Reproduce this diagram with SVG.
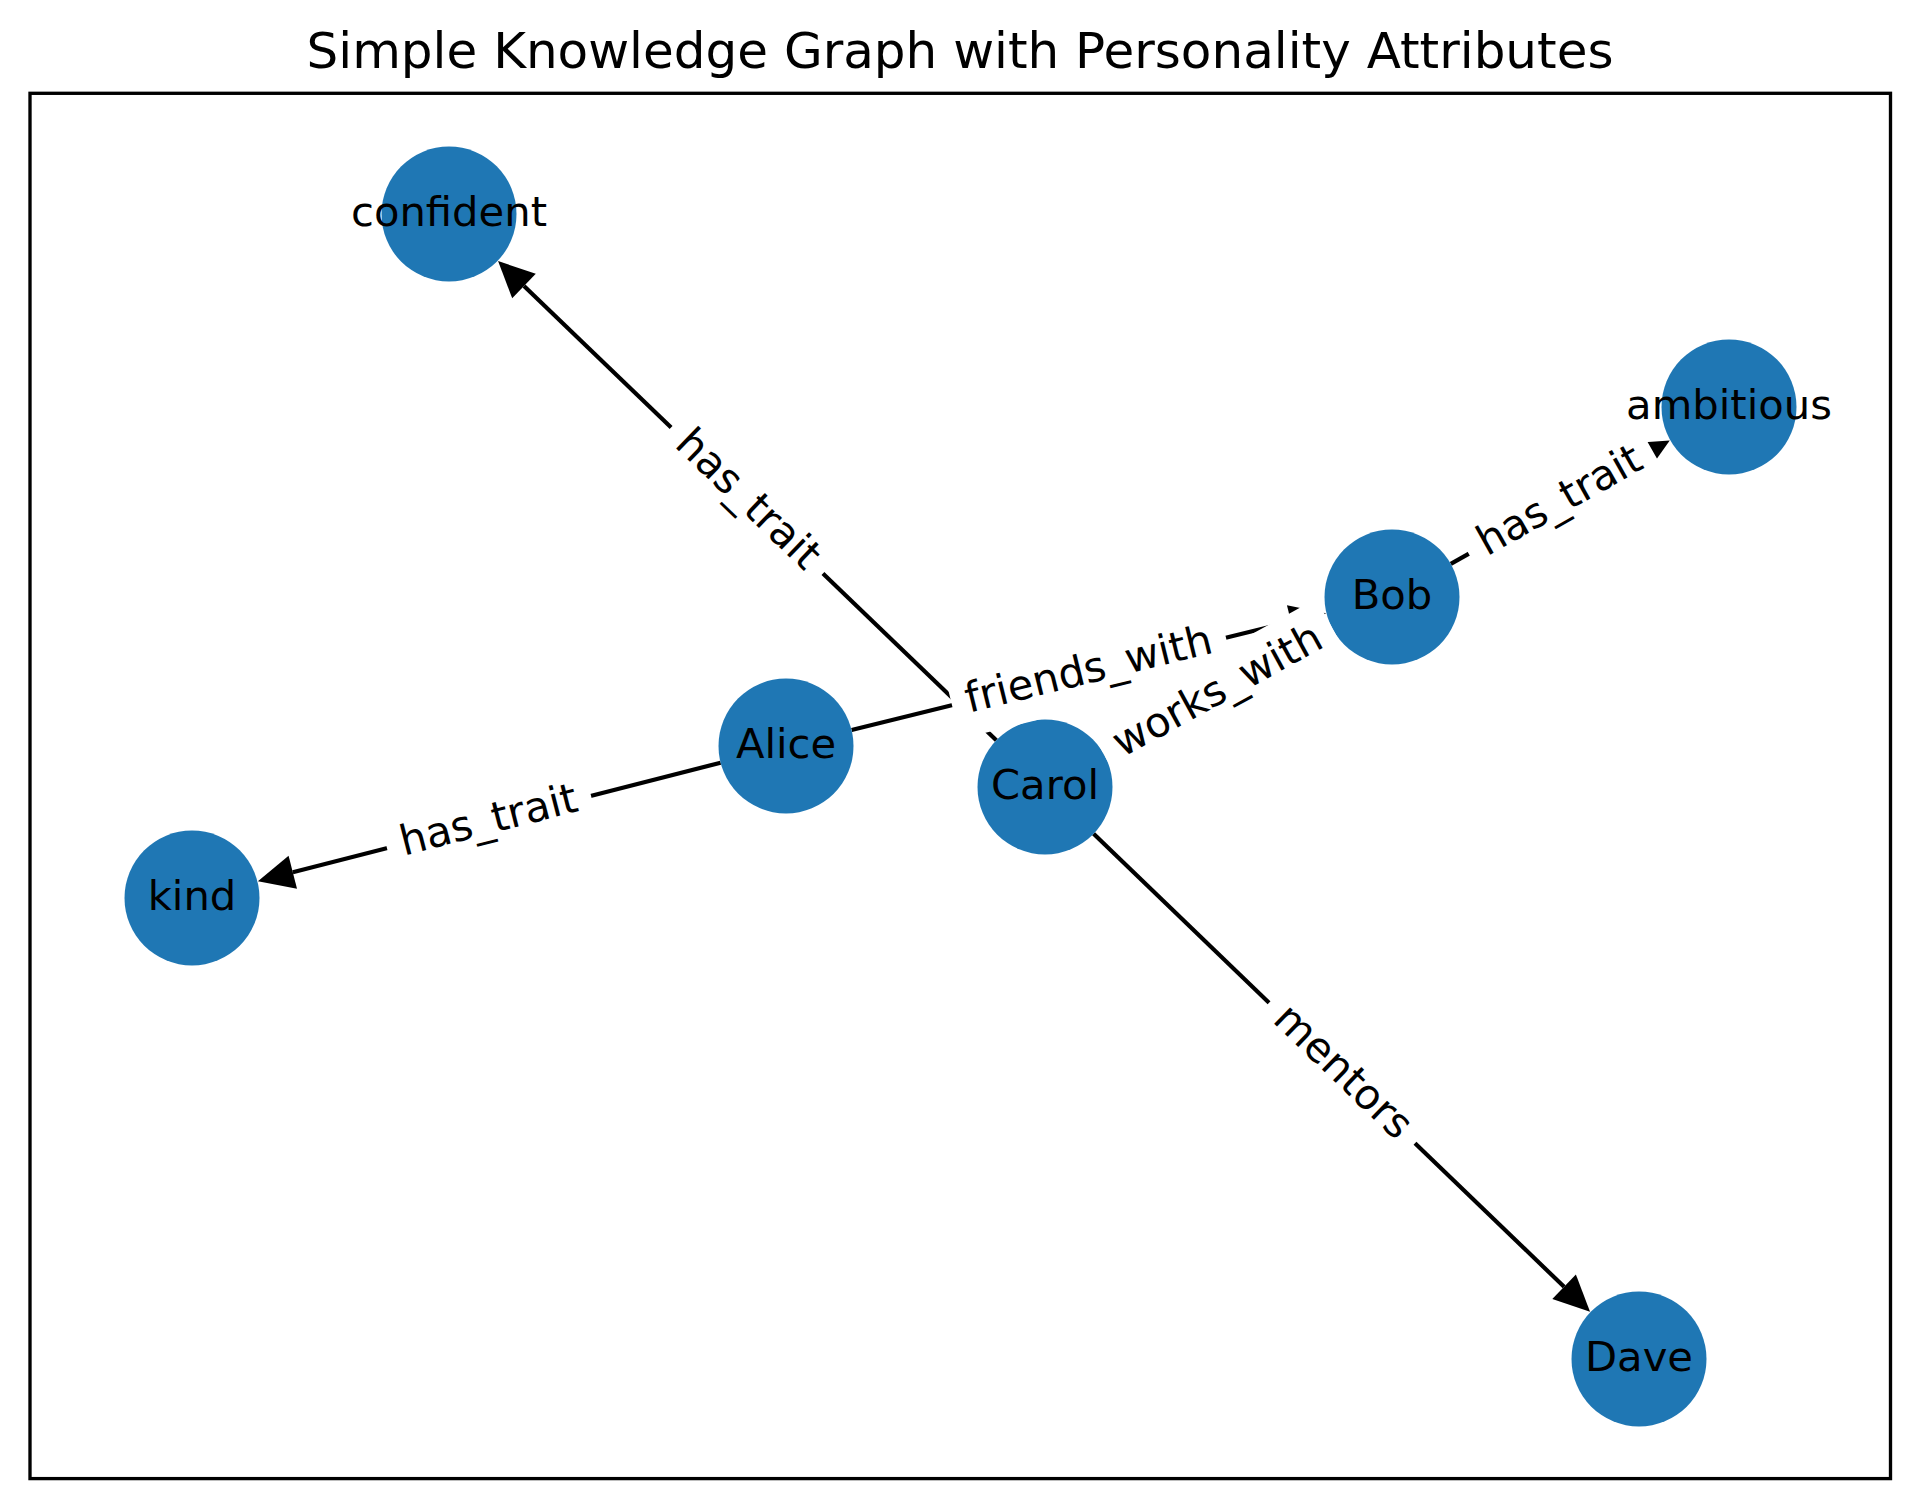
<svg xmlns="http://www.w3.org/2000/svg" width="1919" height="1509" viewBox="0 0 1919 1509">
<style>
.node{fill:#1f77b4}
.nlabel{font-family:"DejaVu Sans",sans-serif;font-size:41.7px;fill:#000;text-anchor:middle}
.edge{stroke:#000;stroke-width:4.17;fill:none}
.lbox{fill:#fff;stroke:#fff;stroke-width:4.17}
.elabel{font-family:"DejaVu Sans",sans-serif;font-size:41.7px;fill:#000;text-anchor:middle}
.title{font-family:"DejaVu Sans",sans-serif;font-size:50px;fill:#000;text-anchor:middle}
</style>
<defs>
<marker id="arrow" markerUnits="userSpaceOnUse" markerWidth="40" markerHeight="40" refX="0" refY="17" orient="auto" overflow="visible">
<path d="M0,0 L36,17 L0,34 Z" fill="#000"/>
</marker>
</defs>
<rect x="0" y="0" width="1919" height="1509" fill="#fff"/>
<text class="title" x="960" y="68">Simple Knowledge Graph with Personality Attributes</text>
<rect x="30" y="93.3" width="1860.5" height="1385.3" fill="none" stroke="#000" stroke-width="3.33"/>
<g id="connectors">
<line class="edge" x1="720.6" y1="762.7" x2="292.8" y2="872.2" marker-end="url(#arrow)"/>
<line class="edge" x1="996.3" y1="740.2" x2="524" y2="286" marker-end="url(#arrow)"/>
<line class="edge" x1="1093.6" y1="833.8" x2="1564.1" y2="1286.8" marker-end="url(#arrow)"/>
<line class="edge" x1="1450.8" y1="563.9" x2="1638.4" y2="458.1" marker-end="url(#arrow)"/>
<line class="edge" x1="851.6" y1="729.9" x2="1291" y2="621.8" marker-end="url(#arrow)"/>
<line class="edge" x1="1104.2" y1="754.6" x2="1300.8" y2="647" marker-end="url(#arrow)"/>
</g>
<g id="node-confident"><circle class="node" cx="449" cy="214" r="67.5"/><text class="nlabel" x="449" y="225.5">confident</text></g>
<g id="node-ambitious"><circle class="node" cx="1729" cy="407" r="67.5"/><text class="nlabel" x="1729" y="418.5">ambitious</text></g>
<g id="node-Bob"><circle class="node" cx="1392" cy="597" r="67.5"/><text class="nlabel" x="1392" y="608.5">Bob</text></g>
<g id="node-Alice"><circle class="node" cx="786" cy="746" r="67.5"/><text class="nlabel" x="786" y="757.5">Alice</text></g>
<g id="node-Carol"><circle class="node" cx="1045" cy="787" r="67.5"/><text class="nlabel" x="1045" y="798.5">Carol</text></g>
<g id="node-kind"><circle class="node" cx="192" cy="898" r="67.5"/><text class="nlabel" x="192" y="909.5">kind</text></g>
<g id="node-Dave"><circle class="node" cx="1639" cy="1359" r="67.5"/><text class="nlabel" x="1639" y="1370.5">Dave</text></g>
<g id="edge-labels">
<g transform="translate(489,822) rotate(-14.35)"><rect class="lbox" x="-103.25" y="-32.7" width="206.5" height="65.4" rx="12.5"/><text class="elabel" x="0" y="11.5">has_trait</text></g>
<g transform="translate(747,500.5) rotate(43.87)"><rect class="lbox" x="-103.25" y="-32.7" width="206.5" height="65.4" rx="12.5"/><text class="elabel" x="0" y="11.5">has_trait</text></g>
<g transform="translate(1342,1073) rotate(43.92)"><rect class="lbox" x="-99.2" y="-32.7" width="198.4" height="65.4" rx="12.5"/><text class="elabel" x="0" y="11.5">mentors</text></g>
<g transform="translate(1560.5,502) rotate(-29.42)"><rect class="lbox" x="-103.25" y="-32.7" width="206.5" height="65.4" rx="12.5"/><text class="elabel" x="0" y="11.5">has_trait</text></g>
<g transform="translate(1089,671.5) rotate(-13.81)"><rect class="lbox" x="-139" y="-32.7" width="278" height="65.4" rx="12.5"/><text class="elabel" x="0" y="11.5">friends_with</text></g>
<g transform="translate(1218.5,692) rotate(-28.70)"><rect class="lbox" x="-128.5" y="-32.7" width="257" height="65.4" rx="12.5"/><text class="elabel" x="0" y="11.5">works_with</text></g>
</g>
</svg>
